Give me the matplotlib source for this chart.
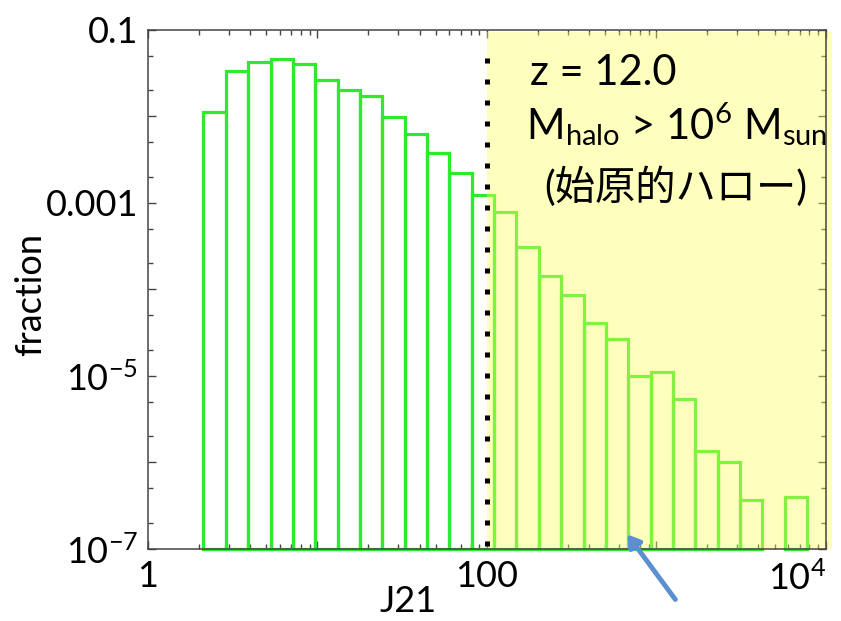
import numpy as np
import matplotlib
matplotlib.use('Agg')
import matplotlib.pyplot as plt
from matplotlib.ticker import LogLocator, NullFormatter

plt.rcParams['font.family'] = ['Lato', 'Noto Sans CJK JP', 'DejaVu Sans']
plt.rcParams['mathtext.fontset'] = 'custom'
plt.rcParams['mathtext.rm'] = 'Lato'
plt.rcParams['mathtext.it'] = 'Lato:italic'

# bin edges in J21 (uniform in log)
bin_edges = [2.125, 2.880, 3.902, 5.287, 7.161, 9.703, 13.15, 17.81, 24.13, 32.69,
             44.30, 60.02, 81.33, 110.2, 149.3, 202.3, 274.1, 371.4, 503.2, 681.8,
             923.6, 1251, 1696, 2297, 3112, 4216, 5713, 7740]
# fraction in each bin (0 = empty bin)
fraction = [1.11e-2, 3.30e-2, 4.27e-2, 4.59e-2, 4.04e-2, 2.64e-2, 1.99e-2, 1.72e-2,
            9.7e-3, 6.2e-3, 3.8e-3, 2.2e-3, 1.24e-3, 7.8e-4, 3.13e-4, 1.43e-4,
            8.6e-5, 4.1e-5, 2.65e-5, 1.0e-5, 1.1e-5, 5.4e-6, 1.36e-6, 1.0e-6,
            3.7e-7, 0, 4.0e-7]

J_cut = 100
x_ticks = [1, 10, 100, 1000, 1e4]
x_ticklabels = ['1', '', '100', '', r'$\mathregular{10^4}$']
y_ticks = [1e-7, 1e-6, 1e-5, 1e-4, 1e-3, 1e-2, 1e-1]
y_ticklabels = [r'$\mathregular{10^{-7}}$', '', r'$\mathregular{10^{-5}}$', '',
                '0.001', '', '0.1']

ymin = 1e-7
edges = np.array(bin_edges)
frac = np.array(fraction)
left = edges[:-1]
width = np.diff(edges)
keep = frac > 0

fig = plt.figure(figsize=(8.41, 6.21), dpi=100)
ax = fig.add_axes([0.176, 0.116, 0.806, 0.836])
ax.set_xscale('log')
ax.set_yscale('log')
ax.set_xlim(1, 1e4)
ax.set_ylim(ymin, 0.1)

ax.bar(left[keep], frac[keep] - ymin, width=width[keep], bottom=ymin, align='edge',
       facecolor='none', edgecolor='#2eea2e', linewidth=2.3, zorder=2, clip_on=False)

# yellow highlight for J21 > 100 (drawn over the bars)
ax.axvspan(J_cut, 1.08e4, ymax=0.995, color='#ffff5a', alpha=0.4, lw=0, zorder=3,
           clip_on=False)
ax.axvline(J_cut, ymin=0.005, ymax=0.96, color='black', lw=3.6,
           linestyle=(0, (1, 3.2)), zorder=4)

ax.set_xticks(x_ticks, labels=x_ticklabels)
ax.set_yticks(y_ticks, labels=y_ticklabels)
ax.xaxis.set_minor_locator(LogLocator(base=10, subs=np.arange(2, 10), numticks=20))
ax.yaxis.set_minor_locator(LogLocator(base=10, subs=(2, 5), numticks=20))
ax.xaxis.set_minor_formatter(NullFormatter())
ax.yaxis.set_minor_formatter(NullFormatter())
ax.tick_params(which='both', direction='in', top=True, right=True, color='#444444',
               width=1.0, labelsize=26)
ax.tick_params(which='major', length=6)
ax.tick_params(which='minor', length=3.5)
ax.tick_params(axis='x', pad=8)
ax.tick_params(axis='y', pad=7)
ax.xaxis.get_major_ticks()[-1].label1.set_horizontalalignment('right')

for s in ax.spines.values():
    s.set_color('#444444')
    s.set_linewidth(1.1)
    s.set_zorder(5)

ax.set_xlabel('J21', fontsize=26)
ax.xaxis.set_label_coords(0.384, -0.07)
ax.set_ylabel('fraction', fontsize=26)
ax.yaxis.set_label_coords(-0.149, 0.49)

ax.text(0.563, 0.894, 'z = 12.0', transform=ax.transAxes, fontsize=30,
        va='baseline', zorder=6)
ax.text(0.557, 0.788, r'M$_{\mathregular{halo}}$ > 10$^{\mathregular{6}}$ M$_{\mathregular{sun}}$',
        transform=ax.transAxes, fontsize=30, va='baseline', zorder=6)
ax.text(0.584, 0.697, '(始原的ハロー)', transform=ax.transAxes, fontsize=29,
        va='center', zorder=6, family=['Lato', 'Noto Sans CJK JP'])

# blue arrow pointing at the J21 axis
ax.annotate('', xy=(0.744, 0.143), xycoords='figure fraction',
            xytext=(0.805, 0.031), textcoords='figure fraction',
            arrowprops=dict(arrowstyle='-|>,head_length=0.7,head_width=0.45',
                            color='#5b8fcf', lw=3.5),
            zorder=7, annotation_clip=False)

fig.savefig('out.png', dpi=100)
